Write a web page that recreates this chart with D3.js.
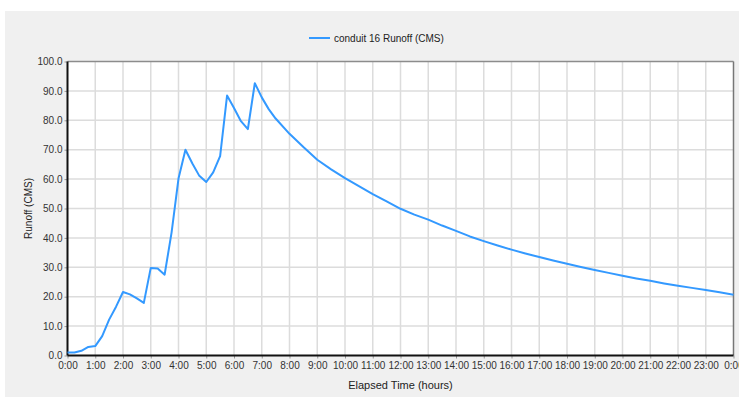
<!DOCTYPE html>
<html>
<head>
<meta charset="utf-8">
<script src="https://cdn.jsdelivr.net/npm/d3@7"></script>
<style>
  body { margin: 0; background: #ffffff; }
  svg { display: block; font-family: "Liberation Sans", Arial, sans-serif; }
</style>
</head>
<body>
<div id="chart"></div>
<script>
// elapsed time in hours, 15-min steps through the storm peak then 30-min steps
var hours = [0, 0.25, 0.5, 0.75, 1, 1.25, 1.5, 1.75, 2, 2.25, 2.5, 2.75, 3, 3.25, 3.5, 3.75,
  4, 4.25, 4.5, 4.75, 5, 5.25, 5.5, 5.75, 6, 6.25, 6.5, 6.75, 7, 7.25, 7.5,
  8, 8.5, 9, 9.5, 10, 10.5, 11, 11.5, 12, 12.5, 13, 13.5, 14, 14.5, 15, 15.5,
  16, 16.5, 17, 17.5, 18, 18.5, 19, 19.5, 20, 20.5, 21, 21.5, 22, 22.5, 23, 23.5, 24];
var runoff = [1.0, 1.0, 1.6, 2.9, 3.2, 6.6, 12.2, 16.6, 21.6, 20.8, 19.4, 17.9, 29.8, 29.6, 27.5, 41.8,
  60.2, 70.0, 65.3, 61.1, 59.0, 62.3, 67.8, 88.4, 84.2, 79.7, 77.0, 92.6, 87.8, 83.8, 80.6,
  75.4, 70.9, 66.6, 63.3, 60.3, 57.6, 54.9, 52.4, 49.9, 47.9, 46.2, 44.2, 42.4, 40.5, 38.9, 37.4,
  36.0, 34.7, 33.5, 32.3, 31.2, 30.1, 29.1, 28.1, 27.1, 26.2, 25.4, 24.5, 23.7, 23.0, 22.3, 21.5, 20.7];
var seriesName = "conduit 16 Runoff (CMS)";
var yTicks = [0, 10, 20, 30, 40, 50, 60, 70, 80, 90, 100];
var xTicks = d3.range(0, 25);

var W = 739, H = 397;
var margin = { top: 61.5, right: 5.5, bottom: 41.5, left: 67.5 };
var width = W - margin.left - margin.right;
var height = H - margin.top - margin.bottom;

var svg = d3.select("#chart").append("svg")
  .attr("width", W).attr("height", H);

// grey panel
svg.append("rect")
  .attr("x", 5).attr("y", 11)
  .attr("width", W - 5).attr("height", H - 11)
  .attr("fill", "#f0f0f0");

var g = svg.append("g")
  .attr("transform", "translate(" + margin.left + "," + margin.top + ")");

var x = d3.scaleLinear().domain([0, 24]).range([0, width]);
var y = d3.scaleLinear().domain([0, 100]).range([height, 0]);

g.append("rect")
  .attr("width", width).attr("height", height)
  .attr("fill", "#ffffff");

// grid
g.append("g").selectAll("line").data(xTicks.slice(1, -1)).enter().append("line")
  .attr("x1", d => x(d)).attr("x2", d => x(d))
  .attr("y1", 0).attr("y2", height)
  .attr("stroke", "#dcdcdc").attr("stroke-width", 1.5);
g.append("g").selectAll("line").data(yTicks.slice(1, -1)).enter().append("line")
  .attr("x1", 0).attr("x2", width)
  .attr("y1", d => y(d)).attr("y2", d => y(d))
  .attr("stroke", "#dcdcdc").attr("stroke-width", 1.5);

// frame: grey top/right, black left/bottom
g.append("line").attr("x1", 0).attr("x2", width).attr("y1", 0).attr("y2", 0)
  .attr("stroke", "#8c8c8c").attr("stroke-width", 1.5);
g.append("line").attr("x1", width).attr("x2", width).attr("y1", 0).attr("y2", height)
  .attr("stroke", "#777777").attr("stroke-width", 1.5);

// axes
var xAxis = d3.axisBottom(x)
  .tickValues(xTicks)
  .tickSize(3)
  .tickFormat(d => (d % 24) + ":00");
var yAxis = d3.axisLeft(y)
  .tickValues(yTicks)
  .tickSize(3)
  .tickFormat(d3.format(".1f"));

var gx = g.append("g").attr("transform", "translate(0," + height + ")").call(xAxis);
var gy = g.append("g").call(yAxis);
[gx, gy].forEach(function (a) {
  a.select(".domain").remove();
  a.selectAll(".tick line").attr("stroke", "#999999");
  a.selectAll(".tick text")
    .attr("fill", "#333333")
    .style("font-size", "10px")
    .style("font-family", "'Liberation Sans', Arial, sans-serif");
});
gx.selectAll(".tick text").attr("dy", "0.71em").attr("y", 6);
gy.selectAll(".tick text").attr("x", -5);

g.append("line").attr("x1", 0).attr("x2", 0).attr("y1", 0).attr("y2", height)
  .attr("stroke", "#111111").attr("stroke-width", 2);
g.append("line").attr("x1", 0).attr("x2", width).attr("y1", height).attr("y2", height)
  .attr("stroke", "#111111").attr("stroke-width", 2);

// series
var pts = hours.map((h, i) => [h, runoff[i]]);
var line = d3.line().x(d => x(d[0])).y(d => y(d[1]));
g.append("path")
  .attr("d", line(pts))
  .attr("fill", "none")
  .attr("stroke", "#3399ff")
  .attr("stroke-width", 2)
  .attr("stroke-linejoin", "round");

// axis titles
svg.append("text")
  .attr("x", margin.left + width / 2)
  .attr("y", 389)
  .attr("text-anchor", "middle")
  .attr("fill", "#222222")
  .style("font-size", "11px")
  .text("Elapsed Time (hours)");

svg.append("text")
  .attr("transform", "translate(32," + (margin.top + height / 2) + ") rotate(-90)")
  .attr("text-anchor", "middle")
  .attr("fill", "#222222")
  .style("font-size", "10px")
  .text("Runoff (CMS)");

// legend
var legend = svg.append("g").attr("transform", "translate(309,38)");
legend.append("line").attr("x1", 0).attr("x2", 21).attr("y1", 0).attr("y2", 0)
  .attr("stroke", "#3399ff").attr("stroke-width", 2);
legend.append("text").attr("x", 25).attr("y", 3.5)
  .attr("fill", "#222222")
  .style("font-size", "10px")
  .text(seriesName);
</script>
</body>
</html>
